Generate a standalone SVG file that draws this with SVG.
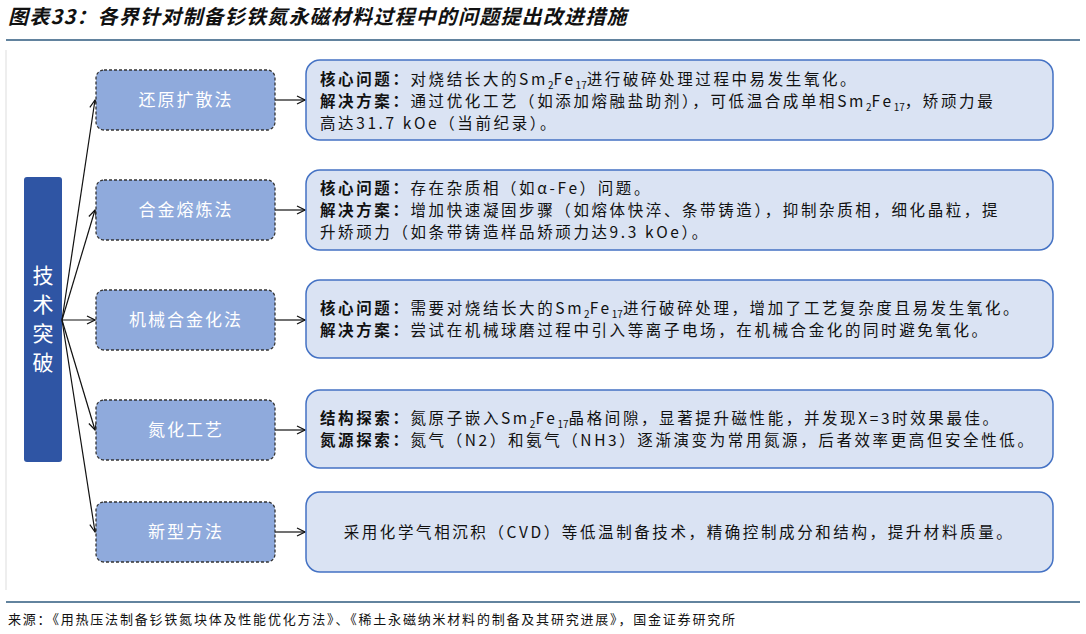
<svg xmlns="http://www.w3.org/2000/svg" width="1086" height="634" viewBox="0 0 1086 634">
<style>
text{font-family:"Noto Sans CJK SC","Liberation Sans",sans-serif;}
.l{fill:#8FAADC;stroke:#333;stroke-width:1.3;stroke-dasharray:3 2}
.lt{fill:#fff;font-size:17px;text-anchor:middle;letter-spacing:2px}
.r{fill:#DAE3F3;stroke:#4472C4;stroke-width:1.5}
.t{font-size:15.5px;fill:#111;letter-spacing:2.6px}
.b{font-weight:bold}
.s{font-size:10px;letter-spacing:0;baseline-shift:-4px}
.c{fill:none;stroke:#111;stroke-width:1.2}
</style>
<defs><marker id="a" markerWidth="10" markerHeight="10" refX="9" refY="5" orient="auto" markerUnits="userSpaceOnUse"><path d="M1,1 L9,5 L1,9" fill="none" stroke="#111" stroke-width="1.2"/></marker></defs>
<rect width="1086" height="634" fill="#fff"/>
<text x="8" y="24" font-size="20" font-style="italic" font-weight="bold" fill="#111" letter-spacing="1.2">图表33：各界针对制备钐铁氮永磁材料过程中的问题提出改进措施</text>
<line x1="6" y1="40" x2="1080" y2="40" stroke="#2E5A7E" stroke-width="1.5"/>
<line x1="6" y1="50" x2="6" y2="590" stroke="#ddd" stroke-width="1"/>
<line x1="6" y1="602" x2="1080" y2="602" stroke="#2E5A7E" stroke-width="1.5"/>
<text x="8" y="624" font-size="13" fill="#111" letter-spacing="1.8">来源：《用热压法制备钐铁氮块体及性能优化方法》、《稀土永磁纳米材料的制备及其研究进展》，国金证券研究所</text>
<g id="root"><rect x="24" y="177" width="38" height="285" rx="3" fill="#2F55A4"/>
<text x="43" y="283" font-size="21" fill="#fff" text-anchor="middle">技</text><text x="43" y="312" font-size="21" fill="#fff" text-anchor="middle">术</text><text x="43" y="341" font-size="21" fill="#fff" text-anchor="middle">突</text><text x="43" y="370" font-size="21" fill="#fff" text-anchor="middle">破</text></g>
<g id="connectors">
<line class="c" x1="62" y1="320" x2="95" y2="100" marker-end="url(#a)"/>
<line class="c" x1="62" y1="320" x2="95" y2="210" marker-end="url(#a)"/>
<line class="c" x1="62" y1="320" x2="95" y2="320" marker-end="url(#a)"/>
<line class="c" x1="62" y1="320" x2="95" y2="430" marker-end="url(#a)"/>
<line class="c" x1="62" y1="320" x2="95" y2="532" marker-end="url(#a)"/>
<line class="c" x1="275" y1="100" x2="305" y2="100" marker-end="url(#a)"/>
<line class="c" x1="275" y1="210" x2="305" y2="210" marker-end="url(#a)"/>
<line class="c" x1="275" y1="320" x2="305" y2="320" marker-end="url(#a)"/>
<line class="c" x1="275" y1="430" x2="305" y2="430" marker-end="url(#a)"/>
<line class="c" x1="275" y1="532" x2="305" y2="532" marker-end="url(#a)"/>
</g>
<g id="n1"><rect class="l" x="96" y="70" width="179" height="60" rx="8"/><text class="lt" x="186" y="106">还原扩散法</text></g>
<g id="n2"><rect class="l" x="96" y="180" width="179" height="60" rx="8"/><text class="lt" x="186" y="216">合金熔炼法</text></g>
<g id="n3"><rect class="l" x="96" y="290" width="179" height="60" rx="8"/><text class="lt" x="186" y="326">机械合金化法</text></g>
<g id="n4"><rect class="l" x="96" y="400" width="179" height="60" rx="8"/><text class="lt" x="186" y="436">氮化工艺</text></g>
<g id="n5"><rect class="l" x="96" y="502" width="179" height="60" rx="8"/><text class="lt" x="186" y="538">新型方法</text></g>
<g id="d1"><rect class="r" x="306" y="60" width="747" height="80" rx="14"/>
<text class="t" x="320" y="85"><tspan class="b">核心问题：</tspan>对烧结长大的Sm<tspan class="s">2</tspan>Fe<tspan class="s">17</tspan>进行破碎处理过程中易发生氧化。</text>
<text class="t" x="320" y="107"><tspan class="b">解决方案：</tspan>通过优化工艺（如添加熔融盐助剂），可低温合成单相Sm<tspan class="s">2</tspan>Fe<tspan class="s">17</tspan>，矫顽力最</text>
<text class="t" x="320" y="129">高达31.7 kOe（当前纪录）。</text></g>
<g id="d2"><rect class="r" x="306" y="170" width="747" height="80" rx="14"/>
<text class="t" x="320" y="194"><tspan class="b">核心问题：</tspan>存在杂质相（如α-Fe）问题。</text>
<text class="t" x="320" y="216"><tspan class="b">解决方案：</tspan>增加快速凝固步骤（如熔体快淬、条带铸造），抑制杂质相，细化晶粒，提</text>
<text class="t" x="320" y="238">升矫顽力（如条带铸造样品矫顽力达9.3 kOe）。</text></g>
<g id="d3"><rect class="r" x="306" y="280" width="747" height="78" rx="14"/>
<text class="t" x="320" y="314"><tspan class="b">核心问题：</tspan>需要对烧结长大的Sm<tspan class="s">2</tspan>Fe<tspan class="s">17</tspan>进行破碎处理，增加了工艺复杂度且易发生氧化。</text>
<text class="t" x="320" y="336"><tspan class="b">解决方案：</tspan>尝试在机械球磨过程中引入等离子电场，在机械合金化的同时避免氧化。</text></g>
<g id="d4"><rect class="r" x="306" y="390" width="747" height="78" rx="14"/>
<text class="t" x="320" y="424"><tspan class="b">结构探索：</tspan>氮原子嵌入Sm<tspan class="s">2</tspan>Fe<tspan class="s">17</tspan>晶格间隙，显著提升磁性能，并发现X=3时效果最佳。</text>
<text class="t" x="320" y="446"><tspan class="b">氮源探索：</tspan>氮气（N2）和氨气（NH3）逐渐演变为常用氮源，后者效率更高但安全性低。</text></g>
<g id="d5"><rect class="r" x="306" y="492" width="747" height="80" rx="14"/>
<text class="t" x="679" y="538" text-anchor="middle">采用化学气相沉积（CVD）等低温制备技术，精确控制成分和结构，提升材料质量。</text></g>
</svg>
